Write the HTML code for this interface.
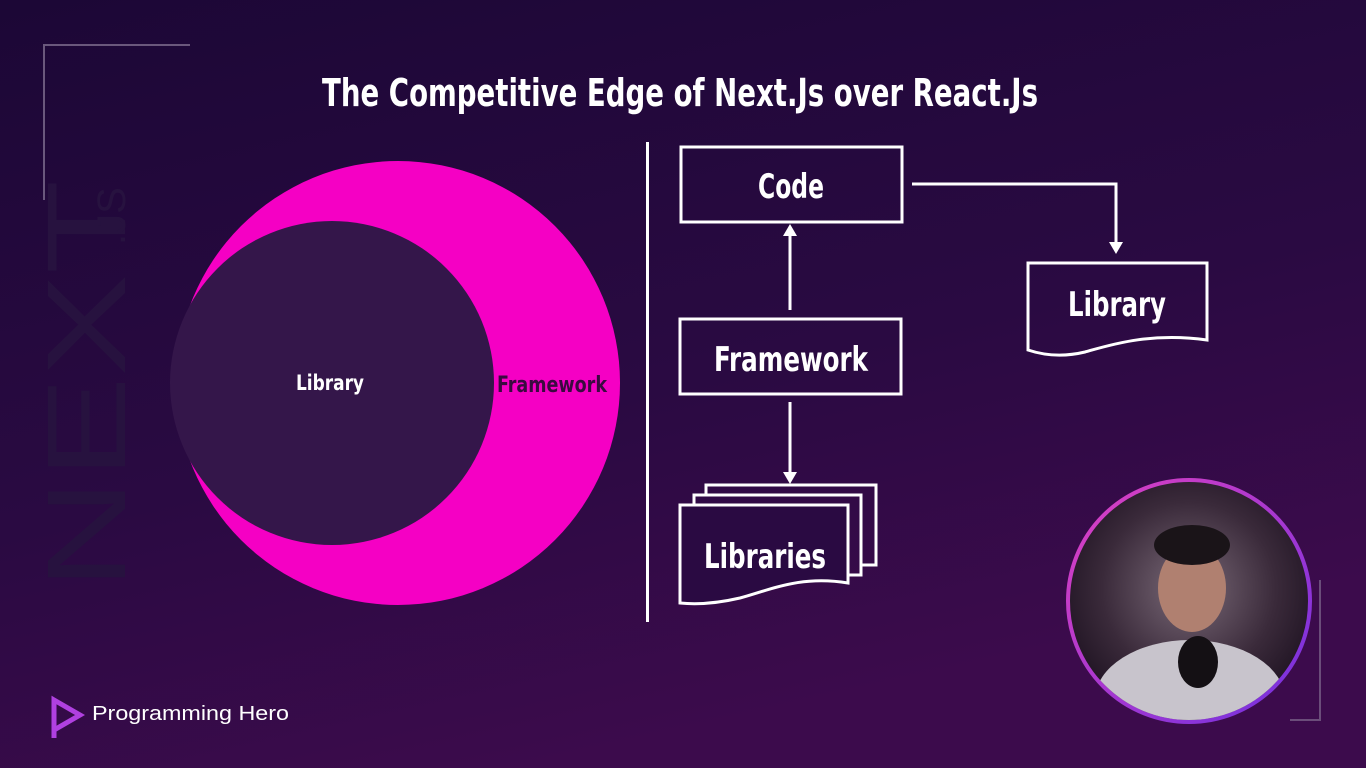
<!DOCTYPE html>
<html><head><meta charset="utf-8"><style>
html,body{margin:0;padding:0;width:1366px;height:768px;overflow:hidden;background:#1e0838}
svg{display:block}
.t{font-family:"DejaVu Sans Condensed","Liberation Sans Narrow","Liberation Sans",sans-serif;font-weight:bold;fill:#fff}
</style></head><body>
<svg width="1366" height="768" viewBox="0 0 1366 768" xmlns="http://www.w3.org/2000/svg">
<defs>
<linearGradient id="bg" x1="0" y1="0" x2="0.4" y2="1">
<stop offset="0" stop-color="#1c0736"/><stop offset="0.6" stop-color="#2a0a42"/><stop offset="1" stop-color="#3c0b4c"/>
</linearGradient>
<radialGradient id="cam" cx="0.5" cy="0.45" r="0.6">
<stop offset="0" stop-color="#7a6a78"/><stop offset="0.6" stop-color="#3a2a3a"/><stop offset="1" stop-color="#1a0f1e"/>
</radialGradient>
<linearGradient id="ring" x1="0" y1="0" x2="1" y2="1">
<stop offset="0" stop-color="#e040c0"/><stop offset="1" stop-color="#7030e0"/>
</linearGradient>
<clipPath id="cc"><circle cx="1189" cy="601" r="119"/></clipPath>
</defs>
<rect width="1366" height="768" fill="url(#bg)"/>
<path d="M44 200 V45 H190" fill="none" stroke="#8a7a9a" stroke-width="2" opacity="0.7"/>
<text transform="translate(125,590) rotate(-90)" font-family="Liberation Sans,sans-serif" font-size="112" fill="#27123f" textLength="410" lengthAdjust="spacingAndGlyphs">NEXT</text>
<text transform="translate(125,245) rotate(-90)" font-family="Liberation Sans,sans-serif" font-size="40" fill="#27123f">.JS</text>
<path d="M1320 580 V720 H1290" fill="none" stroke="#8a7a9a" stroke-width="2" opacity="0.6"/>
<text class="t" x="680" y="106" font-size="38" text-anchor="middle" textLength="716" lengthAdjust="spacingAndGlyphs">The Competitive Edge of Next.Js over React.Js</text>
<circle cx="398" cy="383" r="222" fill="#f500c4"/>
<circle cx="332" cy="383" r="162" fill="#34164a"/>
<text class="t" x="330" y="390" font-size="21" text-anchor="middle" textLength="68" lengthAdjust="spacingAndGlyphs">Library</text>
<text class="t" x="552" y="392" font-size="22" text-anchor="middle" textLength="110" lengthAdjust="spacingAndGlyphs" style="fill:#3a0a40">Framework</text>
<rect x="646" y="142" width="3" height="480" fill="#fff"/>
<g fill="none" stroke="#fff" stroke-width="3">
<rect x="681" y="147" width="221" height="75"/>
<rect x="680" y="319" width="221" height="75"/>
<path d="M790 310 V232"/><path d="M912 184 H1116 V244"/><path d="M790 402 V474"/>
<path d="M1028 263 H1207 V340 C1150 332 1110 345 1085 352 C1060 358 1040 354 1028 350 Z"/>
<path d="M706 495 V485 H876 V565 H860"/>
<path d="M694 505 V495 H861 V575 H848"/>
<path d="M680 505 H848 V583 C800 575 770 590 740 598 C710 605 690 604 680 603 Z" fill="#2a0a42"/>
</g>
<g fill="#fff">
<path d="M783 236 L790 224 L797 236 Z"/>
<path d="M1109 242 L1116 254 L1123 242 Z"/>
<path d="M783 472 L790 484 L797 472 Z"/>
</g>
<text class="t" x="791" y="198" font-size="34" text-anchor="middle" textLength="66" lengthAdjust="spacingAndGlyphs">Code</text>
<text class="t" x="791" y="371" font-size="34" text-anchor="middle" textLength="154" lengthAdjust="spacingAndGlyphs">Framework</text>
<text class="t" x="1117" y="316" font-size="34" text-anchor="middle" textLength="98" lengthAdjust="spacingAndGlyphs">Library</text>
<text class="t" x="765" y="568" font-size="34" text-anchor="middle" textLength="122" lengthAdjust="spacingAndGlyphs">Libraries</text>
<circle cx="1189" cy="601" r="121" fill="url(#cam)" stroke="url(#ring)" stroke-width="4"/>
<g clip-path="url(#cc)">
<ellipse cx="1190" cy="700" rx="95" ry="60" fill="#c8c4cc"/>
<ellipse cx="1192" cy="588" rx="34" ry="44" fill="#b08070"/>
<ellipse cx="1192" cy="545" rx="38" ry="20" fill="#1a1418"/>
<ellipse cx="1198" cy="662" rx="20" ry="26" fill="#141014"/>
</g>
<path d="M54 700 L80 715 L54 730 Z M54 712 V738" fill="none" stroke="#b040e0" stroke-width="5"/>
<text x="92" y="720" font-family="Liberation Sans,sans-serif" font-size="20" fill="#fff" textLength="197" lengthAdjust="spacingAndGlyphs">Programming Hero</text>
</svg>
</body></html>
